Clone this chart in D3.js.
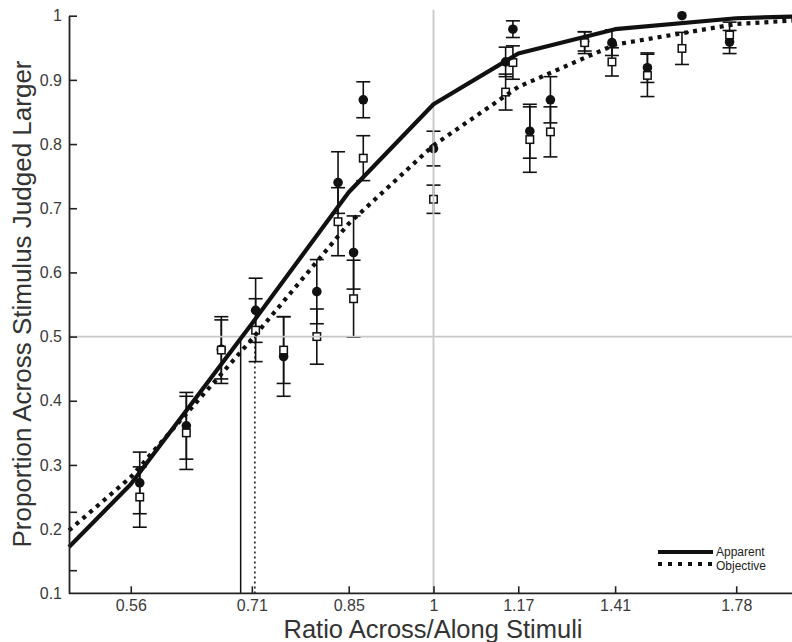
<!DOCTYPE html>
<html>
<head>
<meta charset="utf-8">
<script src="https://cdn.jsdelivr.net/npm/d3@7/dist/d3.min.js"></script>
<style>
  html, body { margin: 0; padding: 0; background: #fff; }
  svg { display: block; font-family: "Liberation Sans", Arial, Helvetica, sans-serif; }
</style>
</head>
<body>
<svg id="chart" width="792" height="642"></svg>
<script>
// Stimulus ratios (across/along) at which judgements were collected
const stimRatio = [0.572, 0.625, 0.668, 0.713, 0.752, 0.801, 0.834, 0.859, 0.875, 1.0,
                   1.147, 1.163, 1.201, 1.249, 1.333, 1.404, 1.502, 1.604, 1.756];

// Apparent ratio: proportion judged larger and error half-widths
const apparentProp = [0.272, 0.361, 0.48, 0.541, 0.469, 0.570, 0.740, 0.631, 0.869, 0.793,
                      0.928, 0.979, 0.820, 0.869, 0.960, 0.958, 0.919, 1.0, 0.959];
const apparentErr  = [0.048, 0.052, 0.046, 0.050, 0.062, 0.050, 0.048, 0.057, 0.028, 0.027,
                      0.023, 0.013, 0.042, 0.036, 0.015, 0.020, 0.023, 0.0, 0.018];

// Objective ratio: proportion judged larger and error half-widths
const objectiveProp = [0.250, 0.350, 0.479, 0.510, 0.479, 0.500, 0.679, 0.559, 0.778, 0.714,
                       0.881, 0.927, 0.807, 0.819, 0.958, 0.928, 0.907, 0.949, 0.970];
const objectiveErr  = [0.047, 0.057, 0.052, 0.049, 0.052, 0.043, 0.053, 0.060, 0.035, 0.022,
                       0.028, 0.026, 0.051, 0.039, 0.017, 0.022, 0.033, 0.025, 0.020];

// Fitted psychometric functions, sampled at the axis ratios
const curveRatio     = [0.5, 0.5623, 0.7079, 0.8511, 1.0, 1.1749, 1.4125, 1.7783, 2.0];
const apparentCurve  = [0.172, 0.270, 0.520, 0.725, 0.862, 0.941, 0.979, 0.996, 0.999];
const objectiveCurve = [0.198, 0.281, 0.496, 0.676, 0.798, 0.889, 0.955, 0.987, 0.993];

// Points of subjective equality (ratio at proportion 0.5)
const pseApparent = 0.693;
const pseObjective = 0.712;

// Axis ticks
const xTickValues = [0.5623, 0.7079, 0.8511, 1.0, 1.1749, 1.4125, 1.7783];
const xTickLabels = ["0.56", "0.71", "0.85", "1", "1.17", "1.41", "1.78"];
const yLabelValues = [0.1, 0.2, 0.3, 0.4, 0.5, 0.6, 0.7, 0.8, 0.9, 1.0];
const yLabelText   = ["0.1", "0.2", "0.3", "0.4", "0.5", "0.6", "0.7", "0.8", "0.9", "1"];
const yTickMarks   = [0.136, 0.227, 0.3, 0.4, 0.5, 0.6, 0.7, 0.8, 0.9, 1.0];

const seriesNames = ["Apparent", "Objective"];

const svg = d3.select("#chart");

const x = d3.scaleLog().domain([0.5, 2.0]).range([69, 798]);
const y = d3.scaleLinear().domain([0.1, 1.0]).range([593.3, 15.7]);

const ink = "#111";

// Error bars
function drawErrorBars(g, props, errs) {
  const capW = 7;
  stimRatio.forEach((r, i) => {
    if (errs[i] <= 0) return;
    const cx = x(r);
    const lo = y(props[i] - errs[i]);
    const hi = y(Math.min(props[i] + errs[i], 1.0));
    g.append("line").attr("x1", cx).attr("x2", cx).attr("y1", lo).attr("y2", hi)
      .attr("stroke", ink).attr("stroke-width", 1.6);
    [lo, hi].forEach(yy => {
      g.append("line").attr("x1", cx - capW).attr("x2", cx + capW).attr("y1", yy).attr("y2", yy)
        .attr("stroke", ink).attr("stroke-width", 1.6);
    });
  });
}

const gErr = svg.append("g");
drawErrorBars(gErr, apparentProp, apparentErr);
drawErrorBars(gErr, objectiveProp, objectiveErr);

// Apparent markers: filled circles
svg.append("g").selectAll("circle")
  .data(stimRatio)
  .join("circle")
  .attr("cx", d => x(d))
  .attr("cy", (d, i) => y(apparentProp[i]))
  .attr("r", 4.8)
  .attr("fill", ink);

// Objective markers: open squares
const sq = 7.5;
svg.append("g").selectAll("rect")
  .data(stimRatio)
  .join("rect")
  .attr("x", d => x(d) - sq / 2)
  .attr("y", (d, i) => y(objectiveProp[i]) - sq / 2)
  .attr("width", sq)
  .attr("height", sq)
  .attr("fill", "#fff")
  .attr("stroke", ink)
  .attr("stroke-width", 1.5);

// Reference lines at proportion 0.5 and ratio 1
svg.append("line")
  .attr("x1", x(0.5)).attr("x2", x(2.0))
  .attr("y1", y(0.5)).attr("y2", y(0.5))
  .attr("stroke", "#c8c8c8").attr("stroke-width", 1.8);
svg.append("line")
  .attr("x1", x(1)).attr("x2", x(1))
  .attr("y1", y(1.0) - 6).attr("y2", y(0.1))
  .attr("stroke", "#c8c8c8").attr("stroke-width", 1.8);

// PSE drop lines
svg.append("line")
  .attr("x1", x(pseApparent)).attr("x2", x(pseApparent))
  .attr("y1", y(0.5)).attr("y2", y(0.1))
  .attr("stroke", ink).attr("stroke-width", 1.5);
svg.append("line")
  .attr("x1", x(pseObjective)).attr("x2", x(pseObjective))
  .attr("y1", y(0.5)).attr("y2", y(0.1))
  .attr("stroke", ink).attr("stroke-width", 1.5)
  .attr("stroke-dasharray", "2,3");

// Fitted curves
const line = d3.line().x(d => x(d[0])).y(d => y(d[1]));
svg.append("path")
  .datum(curveRatio.map((r, i) => [r, objectiveCurve[i]]))
  .attr("d", line)
  .attr("fill", "none").attr("stroke", ink)
  .attr("stroke-width", 4.2).attr("stroke-dasharray", "4,5");
svg.append("path")
  .datum(curveRatio.map((r, i) => [r, apparentCurve[i]]))
  .attr("d", line)
  .attr("fill", "none").attr("stroke", ink)
  .attr("stroke-width", 4.2).attr("stroke-linejoin", "round");

// Axes
const gx = svg.append("g")
  .attr("transform", `translate(0,${y(0.1)})`)
  .call(d3.axisBottom(x)
    .tickValues(xTickValues)
    .tickSizeInner(-7).tickSizeOuter(0)
    .tickPadding(6)
    .tickFormat((d, i) => xTickLabels[i]));
gx.select(".domain").attr("d", `M${x(0.5)},0H${x(2.0)}`);

const gyMarks = svg.append("g")
  .attr("transform", `translate(${x(0.5)},0)`)
  .call(d3.axisLeft(y)
    .tickValues(yTickMarks)
    .tickSizeInner(-8).tickSizeOuter(0)
    .tickFormat(""));
const gyLabels = svg.append("g")
  .attr("transform", `translate(${x(0.5)},0)`)
  .call(d3.axisLeft(y)
    .tickValues(yLabelValues)
    .tickSize(0)
    .tickPadding(7)
    .tickFormat((d, i) => yLabelText[i]));
gyLabels.select(".domain").remove();

[gx, gyMarks].forEach(g => {
  g.select(".domain").attr("stroke", "#222").attr("stroke-width", 1.8);
  g.selectAll(".tick line").attr("stroke", "#222").attr("stroke-width", 1.6);
});
[gx, gyLabels].forEach(g => {
  g.selectAll(".tick text")
    .attr("fill", "#3a3a3a")
    .style("font-size", "16px")
    .style("font-family", "\"Liberation Sans\", Arial, sans-serif");
});

// Axis titles
svg.append("text")
  .attr("x", 433).attr("y", 637.5)
  .attr("text-anchor", "middle")
  .attr("fill", "#333")
  .style("font-size", "25.5px")
  .text("Ratio Across/Along Stimuli");

svg.append("text")
  .attr("transform", "translate(31,304) rotate(-90)")
  .attr("text-anchor", "middle")
  .attr("fill", "#333")
  .style("font-size", "26px")
  .text("Proportion Across Stimulus Judged Larger");

// Legend
const legend = svg.append("g").attr("transform", "translate(658,552)");
legend.append("line")
  .attr("x1", 0).attr("x2", 55).attr("y1", 0).attr("y2", 0)
  .attr("stroke", ink).attr("stroke-width", 4);
legend.append("line")
  .attr("x1", 0).attr("x2", 54).attr("y1", 12).attr("y2", 12)
  .attr("stroke", ink).attr("stroke-width", 4).attr("stroke-dasharray", "4,6");
legend.selectAll("text")
  .data(seriesNames)
  .join("text")
  .attr("x", 58)
  .attr("y", (d, i) => 3.5 + i * 14)
  .attr("fill", "#222")
  .style("font-size", "12px")
  .text(d => d);
</script>
</body>
</html>
